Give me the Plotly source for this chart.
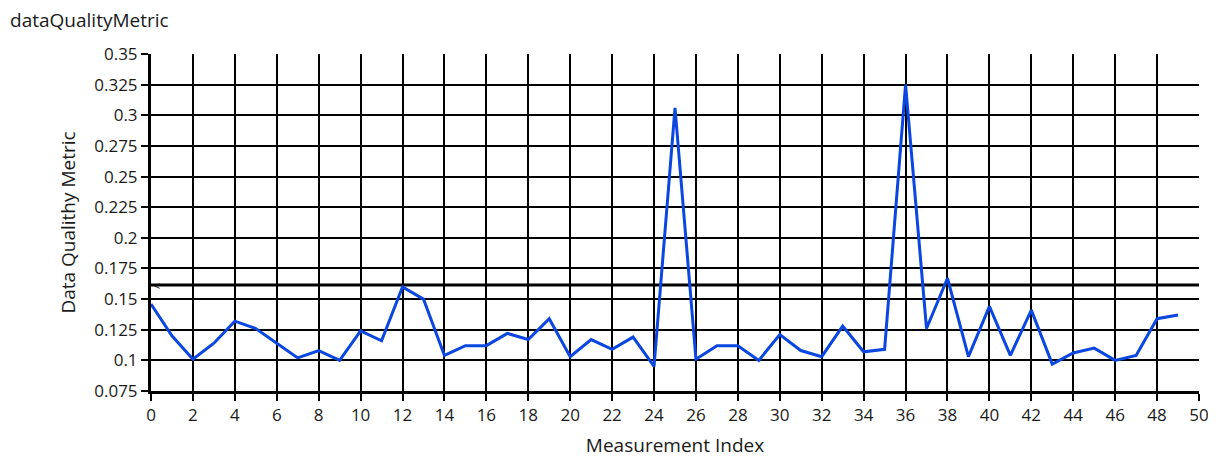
import plotly.graph_objects as go

x_index = list(range(50))
quality = [0.146, 0.120, 0.101, 0.114, 0.132, 0.126, 0.114, 0.102, 0.108, 0.100,
           0.124, 0.116, 0.160, 0.150, 0.104, 0.112, 0.112, 0.122, 0.117, 0.134,
           0.103, 0.117, 0.109, 0.119, 0.095, 0.306, 0.101, 0.112, 0.112, 0.100,
           0.121, 0.108, 0.103, 0.128, 0.107, 0.109, 0.325, 0.126, 0.167, 0.103,
           0.144, 0.104, 0.141, 0.097, 0.106, 0.110, 0.100, 0.104, 0.134, 0.137]
threshold = 0.1615
threshold_x = [0, 50]

y_tickvals = [0.075, 0.1, 0.125, 0.15, 0.175, 0.2, 0.225, 0.25, 0.275, 0.3, 0.325, 0.35]
y_ticktext = ["0.075", "0.1", "0.125", "0.15", "0.175", "0.2", "0.225", "0.25", "0.275", "0.3", "0.325", "0.35"]
x_tickvals = list(range(0, 51, 2))

FONT = "Open Sans"
TXT = "#1a1a1a"

fig = go.Figure()
fig.add_trace(go.Scatter(x=threshold_x, y=[threshold, threshold], mode="lines",
                         line=dict(color="black", width=3), hoverinfo="skip", showlegend=False))
fig.add_trace(go.Scatter(x=x_index, y=quality, mode="lines",
                         line=dict(color="#0a46e0", width=3), showlegend=False))

# page body has an 8px margin, so the figure is 8px smaller and margins shifted
fig.update_layout(
    width=1208, height=451,
    margin=dict(l=143, r=17, t=46, b=68, autoexpand=False),
    paper_bgcolor="white", plot_bgcolor="white",
    font=dict(family=FONT, size=17, color=TXT),
    title=dict(text="dataQualityMetric", xref="container", yref="container",
               x=0.0017, xanchor="left", y=0.973, yanchor="middle",
               font=dict(family=FONT, size=19, color=TXT)),
    xaxis=dict(range=[0, 50], tickvals=x_tickvals, ticks="outside", ticklen=7, tickwidth=2,
               tickcolor="black", showgrid=True, gridcolor="black", gridwidth=2,
               showline=True, linecolor="black", linewidth=3, zeroline=False,
               automargin=False,
               title=dict(text="Measurement Index", standoff=14, font=dict(size=19)),
               tickfont=dict(size=17)),
    yaxis=dict(range=[0.075, 0.35], tickvals=y_tickvals, ticktext=y_ticktext,
               ticks="outside", ticklen=7, tickwidth=2, tickcolor="black",
               showgrid=True, gridcolor="black", gridwidth=2,
               showline=True, linecolor="black", linewidth=3, zeroline=False,
               automargin=False,
               title=dict(text="Data Qualithy Metric", standoff=14, font=dict(size=19)),
               tickfont=dict(size=17)),
)
fig.add_annotation(x=0, y=threshold, xref="x", yref="y", text="<", showarrow=False,
                   xanchor="left", yanchor="middle", font=dict(size=11, color="black"),
                   xshift=1)

fig.write_html("out.html")
